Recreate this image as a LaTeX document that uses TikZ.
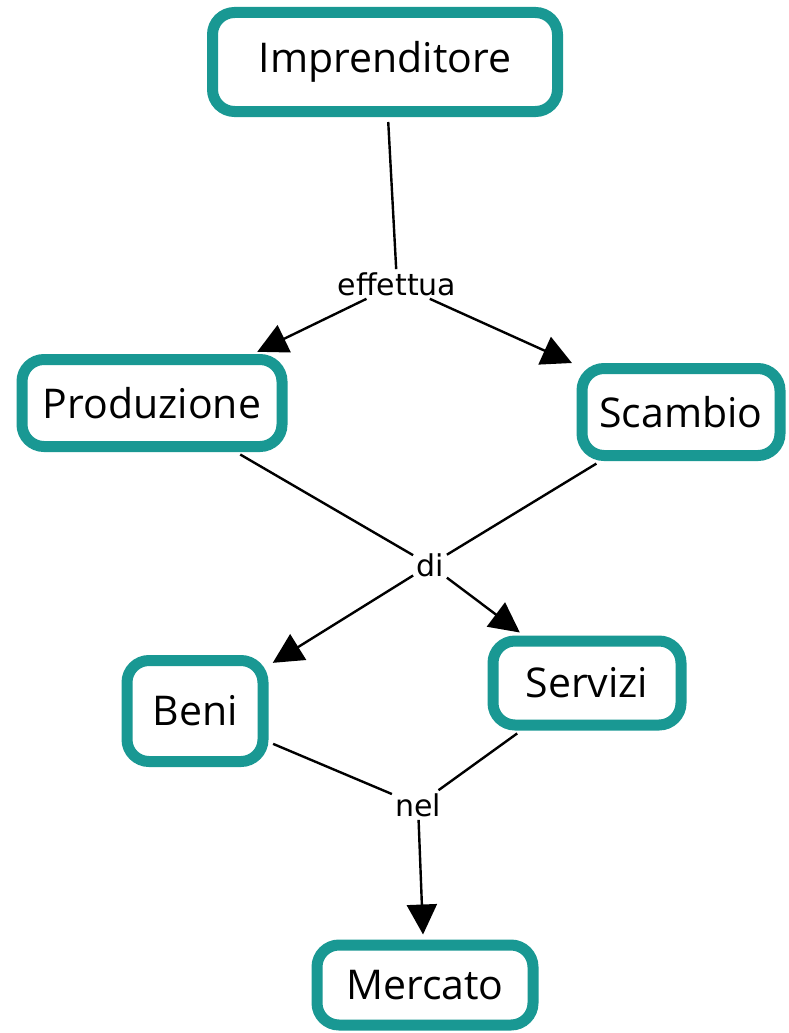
\documentclass[tikz,border=0pt]{standalone}
\usepackage{fontspec}
\setmainfont{Open Sans}
\newfontfamily\labelfont{DejaVu Sans}
\usetikzlibrary{arrows.meta}
\definecolor{conceptteal}{RGB}{25,152,147}

\begin{document}
\begin{tikzpicture}[
		x=1pt, y=-1pt,
		concept/.style={draw=conceptteal, line width=11pt, rounded corners=22pt, fill=white,
			font=\fontsize{41}{45}\selectfont, inner sep=0pt},
		linking/.style={font=\labelfont\fontsize{30}{32}\selectfont, inner sep=3pt},
		link/.style={line width=2.4pt, shorten <=5pt},
		arrowlink/.style={line width=2.4pt, shorten >=5pt, -{Triangle[length=30pt,width=30pt]}}
		]
		\useasboundingbox (0,0) rectangle (789,1033);
		
		\node[concept, minimum width=345pt, minimum height=99pt] (impr) at (385,62) {Imprenditore};
		\node[concept, minimum width=260pt, minimum height=87pt] (prod) at (152,403) {Produzione};
		\node[concept, minimum width=198pt, minimum height=87pt] (scam) at (681,412) {Scambio};
		\node[concept, minimum width=136pt, minimum height=101pt] (beni) at (195,711) {Beni};
		\node[concept, minimum width=188pt, minimum height=84pt] (serv) at (587,683) {Servizi};
		\node[concept, minimum width=216pt, minimum height=80pt] (merc) at (425,985) {Mercato};
		
		\node[linking] (eff) at (397,284) {effettua};
		\node[linking] (di) at (430,565) {di};
		\node[linking] (nel) at (418,805) {nel};
		
		\draw[link] (impr) -- (eff);
		\draw[arrowlink] (eff) -- (prod);
		\draw[arrowlink] (eff) -- (scam);
		\draw[link] (prod) -- (di);
		\draw[link] (scam) -- (di);
		\draw[arrowlink] (di) -- (beni);
		\draw[arrowlink] (di) -- (serv);
		\draw[link] (beni) -- (nel);
		\draw[link] (serv) -- (nel);
		\draw[arrowlink] (nel) -- (merc);
\end{tikzpicture}
\end{document}
